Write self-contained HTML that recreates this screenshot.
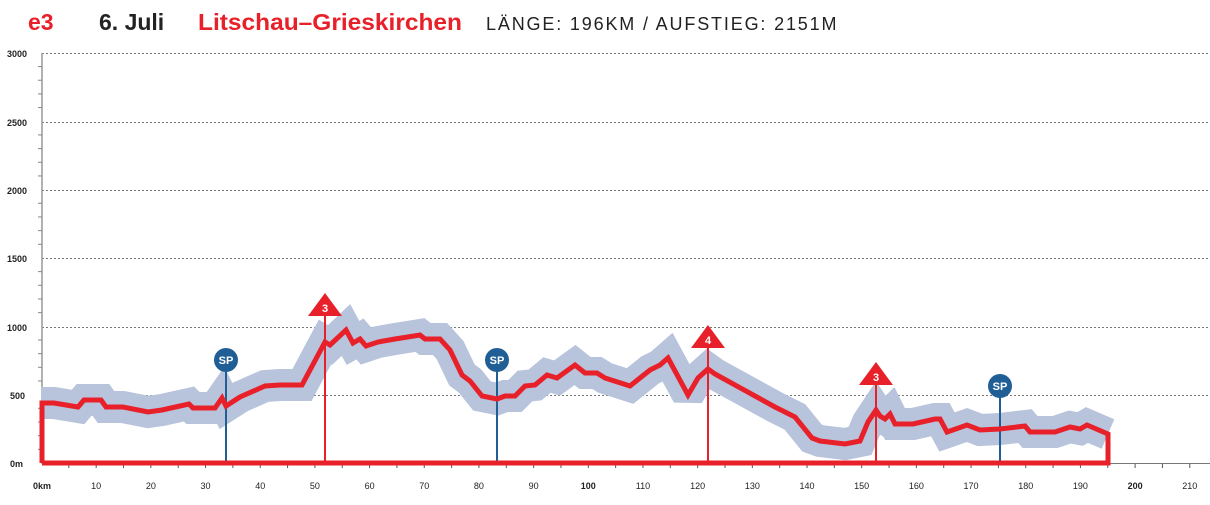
<!DOCTYPE html>
<html><head><meta charset="utf-8"><style>
body{margin:0;background:#fff;width:1210px;height:500px;overflow:hidden;font-family:"Liberation Sans",sans-serif}
</style></head><body>
<svg width="1210" height="500" xmlns="http://www.w3.org/2000/svg">
<g font-family="Liberation Sans, sans-serif">
<text x="28" y="30" font-size="23" font-weight="bold" fill="#e8202a">e3</text>
<text x="99" y="30" font-size="23" font-weight="bold" fill="#222">6. Juli</text>
<text x="198" y="30" font-size="23" font-weight="bold" fill="#e8202a" textLength="264" lengthAdjust="spacingAndGlyphs">Litschau–Grieskirchen</text>
<text x="486" y="30" font-size="18" fill="#222" letter-spacing="1.5" textLength="352" lengthAdjust="spacing">LÄNGE: 196KM / AUFSTIEG: 2151M</text>
</g>
<g stroke="#777" stroke-width="1" stroke-dasharray="2,2">
<line x1="42" y1="53.5" x2="1210" y2="53.5"/>
<line x1="42" y1="122.5" x2="1210" y2="122.5"/>
<line x1="42" y1="190.5" x2="1210" y2="190.5"/>
<line x1="42" y1="258.5" x2="1210" y2="258.5"/>
<line x1="42" y1="327.5" x2="1210" y2="327.5"/>
<line x1="42" y1="395.5" x2="1210" y2="395.5"/>
</g>
<line x1="42" y1="53" x2="42" y2="464" stroke="#999" stroke-width="1.5"/>
<g stroke="#888" stroke-width="1" id="yt"></g>
<g font-size="9" font-weight="bold" fill="#222" font-family="Liberation Sans, sans-serif">
<text x="7" y="57">3000</text><text x="7" y="126">2500</text><text x="7" y="194">2000</text>
<text x="7" y="262">1500</text><text x="7" y="331">1000</text><text x="10" y="399">500</text><text x="10" y="467">0m</text>
</g>
<line x1="42" y1="463.5" x2="1210" y2="463.5" stroke="#777"/>
<g id="xt" stroke="#555"></g>
<g font-size="9" fill="#222" font-family="Liberation Sans, sans-serif" text-anchor="middle" id="xl"></g>
<polyline id="band" fill="none" stroke="#b8c3dc" stroke-width="32" stroke-linejoin="miter" stroke-miterlimit="2"
points="41,403 54,403 78,407 84,400 101,400 106,407 123,407 148,412 162,410 180,406 189,404 193,408 215,408 222,398 226,406 240,397 265,386 280,385 302,385 325,342 330,345 346,330 353,343 360,339 366,346 378,342 395,339 420,335 425,339 440,339 450,350 462,375 470,381 482,396 497,399 505,396 515,396 525,386 535,385 547,375 557,378 575,365 585,373 597,373 605,378 630,386 650,370 660,365 668,358 688,395 698,378 708,369 715,374 775,407 795,417 812,438 820,441 845,444 860,441 868,422 876,410 880,416 885,419 890,414 895,424 913,424 935,419 940,419 947,432 967,425 980,430 1000,429 1025,426 1030,432 1055,432 1070,427 1080,429 1087,425 1108,434"/>
<line x1="226" y1="370" x2="226" y2="463" stroke="#1f5f95" stroke-width="2"/>
<line x1="497" y1="370" x2="497" y2="463" stroke="#1f5f95" stroke-width="2"/>
<line x1="1000" y1="395" x2="1000" y2="463" stroke="#1f5f95" stroke-width="2"/>
<line x1="325" y1="310" x2="325" y2="463" stroke="#e8202a" stroke-width="2"/>
<line x1="708" y1="342" x2="708" y2="463" stroke="#e8202a" stroke-width="2"/>
<line x1="876" y1="380" x2="876" y2="463" stroke="#e8202a" stroke-width="2"/>
<polyline fill="none" stroke="#e8202a" stroke-width="5" stroke-linejoin="miter"
points="42,463 42,403 54,403 78,407 84,400 101,400 106,407 123,407 148,412 162,410 180,406 189,404 193,408 215,408 222,398 226,406 240,397 265,386 280,385 302,385 325,342 330,345 346,330 353,343 360,339 366,346 378,342 395,339 420,335 425,339 440,339 450,350 462,375 470,381 482,396 497,399 505,396 515,396 525,386 535,385 547,375 557,378 575,365 585,373 597,373 605,378 630,386 650,370 660,365 668,358 688,395 698,378 708,369 715,374 775,407 795,417 812,438 820,441 845,444 860,441 868,422 876,410 880,416 885,419 890,414 895,424 913,424 935,419 940,419 947,432 967,425 980,430 1000,429 1025,426 1030,432 1055,432 1070,427 1080,429 1087,425 1108,434 1108,463 42,463"/>
<g font-family="Liberation Sans, sans-serif" font-weight="bold" font-size="11" fill="#fff" text-anchor="middle">
<circle cx="226" cy="360" r="12" fill="#1f5f95"/><text x="226" y="364">SP</text>
<circle cx="497" cy="360" r="12" fill="#1f5f95"/><text x="497" y="364">SP</text>
<circle cx="1000" cy="386" r="12" fill="#1f5f95"/><text x="1000" y="390">SP</text>
<polygon points="325,293 308,316 342,316" fill="#e8202a"/><text x="325" y="312">3</text>
<polygon points="708,325 691,348 725,348" fill="#e8202a"/><text x="708" y="344">4</text>
<polygon points="876,362 859,385 893,385" fill="#e8202a"/><text x="876" y="381">3</text>
</g>
<script>
var ns="http://www.w3.org/2000/svg";
var yt=document.getElementById("yt");
for(var i=1;i<30;i++){if(i%5==0)continue;var y=463-i*13.67;var l=document.createElementNS(ns,"line");l.setAttribute("x1",38);l.setAttribute("x2",42);l.setAttribute("y1",y);l.setAttribute("y2",y);yt.appendChild(l);}
var xt=document.getElementById("xt"),xl=document.getElementById("xl");
for(var k=5;k<=215;k+=5){var x=41.5+k*5.468;var l=document.createElementNS(ns,"line");l.setAttribute("x1",x);l.setAttribute("x2",x);l.setAttribute("y1",464);l.setAttribute("y2",468);xt.appendChild(l);
if(k%10==0){var t=document.createElementNS(ns,"text");t.setAttribute("x",x);t.setAttribute("y",489);t.textContent=k;if(k==100||k==200)t.setAttribute("font-weight","bold");xl.appendChild(t);}}
var t=document.createElementNS(ns,"text");t.setAttribute("x",42);t.setAttribute("y",489);t.setAttribute("font-weight","bold");t.textContent="0km";xl.appendChild(t);
</script>
</svg>
</body></html>
